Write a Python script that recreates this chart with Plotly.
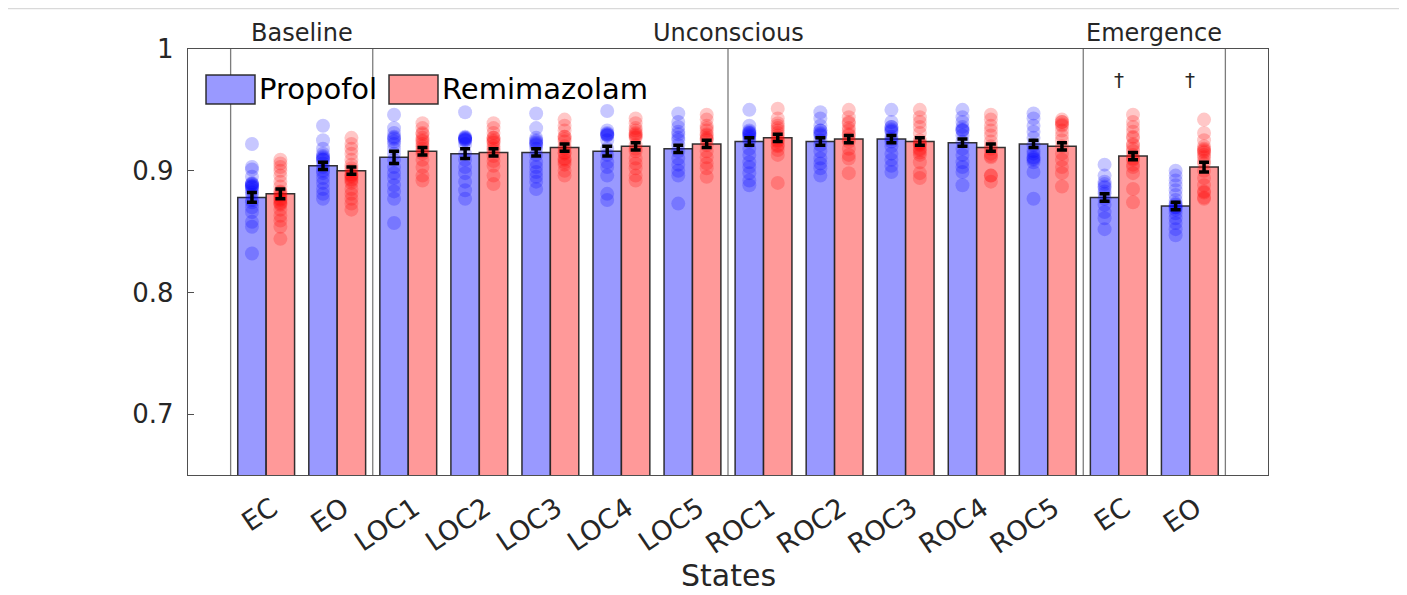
import numpy as np
import plotly.graph_objects as go

# ---------------- data ----------------
states = ["EC", "EO", "LOC1", "LOC2", "LOC3", "LOC4", "LOC5",
          "ROC1", "ROC2", "ROC3", "ROC4", "ROC5", "EC", "EO"]
phases = ["Baseline", "Unconscious", "Emergence"]
phase_centers = [1.5, 7.5, 13.5]
phase_bounds = [0.5, 2.5, 7.5, 12.5, 14.5]

propofol_mean = [0.878, 0.904, 0.911, 0.914, 0.915, 0.916, 0.918,
                 0.924, 0.924, 0.926, 0.923, 0.922, 0.878, 0.871]
remimazolam_mean = [0.881, 0.900, 0.916, 0.915, 0.919, 0.920, 0.922,
                    0.927, 0.926, 0.924, 0.919, 0.920, 0.912, 0.903]
propofol_sem = [0.004, 0.003, 0.005, 0.004, 0.003, 0.004, 0.003,
                0.003, 0.003, 0.003, 0.003, 0.003, 0.003, 0.003]
remimazolam_sem = [0.004, 0.003, 0.003, 0.003, 0.003, 0.003, 0.003,
                   0.003, 0.003, 0.003, 0.003, 0.003, 0.003, 0.004]

propofol_dots = [
    [0.922, 0.903, 0.901, 0.895, 0.890, 0.889, 0.889, 0.888, 0.887, 0.887, 0.886, 0.884, 0.882, 0.880, 0.876, 0.874, 0.870, 0.866, 0.858, 0.854, 0.832],
    [0.937, 0.925, 0.918, 0.914, 0.912, 0.911, 0.910, 0.909, 0.909, 0.906, 0.903, 0.900, 0.898, 0.894, 0.890, 0.885, 0.881, 0.877],
    [0.946, 0.935, 0.931, 0.928, 0.927, 0.926, 0.924, 0.922, 0.918, 0.914, 0.909, 0.903, 0.898, 0.894, 0.888, 0.883, 0.877, 0.857],
    [0.948, 0.928, 0.927, 0.927, 0.926, 0.926, 0.925, 0.925, 0.922, 0.914, 0.909, 0.903, 0.898, 0.891, 0.884, 0.877],
    [0.947, 0.935, 0.927, 0.925, 0.924, 0.923, 0.922, 0.921, 0.918, 0.913, 0.907, 0.903, 0.899, 0.895, 0.891, 0.885],
    [0.949, 0.933, 0.931, 0.930, 0.930, 0.929, 0.929, 0.925, 0.918, 0.913, 0.907, 0.903, 0.896, 0.881, 0.876],
    [0.947, 0.940, 0.936, 0.932, 0.930, 0.927, 0.925, 0.921, 0.916, 0.910, 0.905, 0.900, 0.896, 0.873],
    [0.950, 0.937, 0.933, 0.932, 0.931, 0.931, 0.930, 0.929, 0.928, 0.926, 0.924, 0.918, 0.913, 0.907, 0.903, 0.898, 0.892, 0.888],
    [0.948, 0.943, 0.937, 0.933, 0.933, 0.931, 0.930, 0.929, 0.925, 0.921, 0.916, 0.910, 0.906, 0.902, 0.896],
    [0.950, 0.940, 0.936, 0.936, 0.934, 0.933, 0.932, 0.928, 0.926, 0.924, 0.920, 0.914, 0.909, 0.904, 0.899],
    [0.950, 0.944, 0.940, 0.936, 0.934, 0.933, 0.933, 0.929, 0.924, 0.918, 0.913, 0.907, 0.903, 0.899, 0.888],
    [0.947, 0.943, 0.937, 0.932, 0.927, 0.921, 0.916, 0.914, 0.911, 0.910, 0.909, 0.907, 0.899, 0.877],
    [0.905, 0.896, 0.891, 0.889, 0.887, 0.886, 0.883, 0.881, 0.877, 0.872, 0.866, 0.861, 0.852],
    [0.900, 0.896, 0.892, 0.888, 0.884, 0.880, 0.876, 0.873, 0.872, 0.870, 0.870, 0.868, 0.865, 0.861, 0.857, 0.852, 0.847],
]
remimazolam_dots = [
    [0.909, 0.906, 0.903, 0.900, 0.896, 0.891, 0.887, 0.883, 0.882, 0.880, 0.879, 0.877, 0.876, 0.874, 0.873, 0.872, 0.868, 0.863, 0.859, 0.854, 0.844],
    [0.927, 0.922, 0.918, 0.914, 0.909, 0.905, 0.902, 0.900, 0.897, 0.896, 0.895, 0.893, 0.892, 0.890, 0.885, 0.881, 0.877, 0.873, 0.868],
    [0.939, 0.935, 0.931, 0.930, 0.927, 0.925, 0.924, 0.922, 0.920, 0.918, 0.916, 0.914, 0.909, 0.903, 0.896, 0.892],
    [0.939, 0.935, 0.931, 0.927, 0.927, 0.925, 0.924, 0.923, 0.920, 0.918, 0.916, 0.912, 0.908, 0.904, 0.896, 0.889],
    [0.942, 0.937, 0.933, 0.928, 0.928, 0.926, 0.924, 0.920, 0.918, 0.915, 0.914, 0.910, 0.909, 0.907, 0.905, 0.900, 0.896],
    [0.943, 0.939, 0.935, 0.933, 0.931, 0.930, 0.929, 0.928, 0.927, 0.921, 0.918, 0.916, 0.910, 0.906, 0.902, 0.896, 0.892],
    [0.946, 0.942, 0.937, 0.935, 0.933, 0.930, 0.929, 0.927, 0.926, 0.925, 0.921, 0.916, 0.911, 0.906, 0.902, 0.895],
    [0.951, 0.943, 0.939, 0.937, 0.935, 0.933, 0.931, 0.929, 0.927, 0.925, 0.924, 0.921, 0.920, 0.917, 0.913, 0.890],
    [0.950, 0.944, 0.940, 0.939, 0.935, 0.933, 0.930, 0.929, 0.926, 0.924, 0.918, 0.913, 0.910, 0.898],
    [0.950, 0.944, 0.940, 0.936, 0.931, 0.925, 0.923, 0.922, 0.921, 0.918, 0.917, 0.915, 0.913, 0.907, 0.898, 0.894],
    [0.946, 0.942, 0.937, 0.933, 0.929, 0.924, 0.920, 0.918, 0.914, 0.912, 0.911, 0.896, 0.896, 0.891],
    [0.942, 0.940, 0.940, 0.938, 0.937, 0.933, 0.929, 0.925, 0.920, 0.914, 0.909, 0.903, 0.898, 0.887],
    [0.946, 0.940, 0.936, 0.932, 0.928, 0.927, 0.922, 0.921, 0.918, 0.916, 0.913, 0.910, 0.909, 0.905, 0.903, 0.898, 0.885, 0.874],
    [0.942, 0.931, 0.925, 0.920, 0.918, 0.917, 0.916, 0.915, 0.913, 0.911, 0.908, 0.906, 0.900, 0.894, 0.888, 0.883, 0.882, 0.878, 0.877],
]
dagger_states = [13, 14]
dagger_level = 0.9745

# ---------------- figure ----------------
PAGE = 8                      # default page margin around the plot div
W, H = 1407 - PAGE, 595 - PAGE
L, T = 188 - PAGE, 49 - PAGE
R = W - (1268 - PAGE)
B = H - (475 - PAGE)
PW, PH = W - L - R, H - T - B

def px_x(p):                  # page pixel -> paper x
    return (p - PAGE - L) / PW

def px_y(p):                  # page pixel -> paper y
    return (H - B - (p - PAGE)) / PH

idx = np.arange(1, len(states) + 1)
off = 0.2
bw = 0.4
xp = idx - off
xr = idx + off

BLUE_BAR = "rgb(153,153,255)"
RED_BAR = "rgb(255,153,153)"
EDGE = "rgba(30,30,30,0.9)"
TXT = "#262626"
FONT = "DejaVu Sans"

fig = go.Figure()

fig.add_trace(go.Bar(x=xp, y=propofol_mean, width=bw, marker=dict(color=BLUE_BAR, line=dict(color=EDGE, width=1.5)),
                     showlegend=False, hoverinfo="skip"))
fig.add_trace(go.Bar(x=xr, y=remimazolam_mean, width=bw, marker=dict(color=RED_BAR, line=dict(color=EDGE, width=1.5)),
                     showlegend=False, hoverinfo="skip"))

def dots_xy(xpos, dots):
    xs, ys = [], []
    for x0, d in zip(xpos, dots):
        xs.extend([x0] * len(d))
        ys.extend(d)
    return xs, ys

dx, dy = dots_xy(xp, propofol_dots)
fig.add_trace(go.Scatter(x=dx, y=dy, mode="markers",
                         marker=dict(size=14, color="rgb(0,0,255)", opacity=0.22, line=dict(width=0)),
                         showlegend=False, hoverinfo="skip"))
dx, dy = dots_xy(xr, remimazolam_dots)
fig.add_trace(go.Scatter(x=dx, y=dy, mode="markers",
                         marker=dict(size=14, color="rgb(255,0,0)", opacity=0.22, line=dict(width=0)),
                         showlegend=False, hoverinfo="skip"))

for xpos, m, s in [(xp, propofol_mean, propofol_sem), (xr, remimazolam_mean, remimazolam_sem)]:
    fig.add_trace(go.Scatter(x=xpos, y=m, mode="markers", marker=dict(size=1, color="rgba(0,0,0,0)"),
                             error_y=dict(type="data", array=s, visible=True, color="black", thickness=3.5, width=5),
                             showlegend=False, hoverinfo="skip"))

shapes = []
for xb in phase_bounds:
    shapes.append(dict(type="line", xref="x", yref="paper", x0=xb, x1=xb, y0=0, y1=1,
                       line=dict(color="rgba(110,110,110,0.9)", width=1.3), layer="below"))

shapes.append(dict(type="rect", xref="paper", yref="paper", x0=px_x(206), x1=px_x(255), y0=px_y(104), y1=px_y(75),
                   fillcolor=BLUE_BAR, line=dict(color=EDGE, width=1.5)))
shapes.append(dict(type="rect", xref="paper", yref="paper", x0=px_x(389), x1=px_x(438), y0=px_y(104), y1=px_y(75),
                   fillcolor=RED_BAR, line=dict(color=EDGE, width=1.5)))

# light frame of the picture
shapes.append(dict(type="line", xref="paper", yref="paper", x0=px_x(PAGE), x1=px_x(1400), y0=px_y(PAGE + 0.5), y1=px_y(PAGE + 0.5),
                   line=dict(color="#d9d9d9", width=1.5)))
shapes.append(dict(type="line", xref="paper", yref="paper", x0=px_x(1400), x1=px_x(1400), y0=px_y(PAGE), y1=px_y(595),
                   line=dict(color="#d9d9d9", width=1.5)))

annotations = []
for name, xc in zip(phases, phase_centers):
    annotations.append(dict(x=xc, y=px_y(33), xref="x", yref="paper", text=name, showarrow=False,
                            font=dict(family=FONT, size=24, color=TXT), xanchor="center", yanchor="middle"))
for k in dagger_states:
    annotations.append(dict(x=k, y=dagger_level, xref="x", yref="y", text="†", showarrow=False,
                            font=dict(family=FONT, size=20, color=TXT), xanchor="center", yanchor="middle"))
annotations.append(dict(x=px_x(257), y=px_y(89), xref="paper", yref="paper", text="Propofol", showarrow=False,
                        font=dict(family=FONT, size=29, color="black"), xanchor="left", yanchor="middle"))
annotations.append(dict(x=px_x(440), y=px_y(89), xref="paper", yref="paper", text="Remimazolam", showarrow=False,
                        font=dict(family=FONT, size=29, color="black"), xanchor="left", yanchor="middle"))
annotations.append(dict(x=7.5, y=px_y(575), xref="x", yref="paper", text="States", showarrow=False,
                        font=dict(family=FONT, size=30, color=TXT), xanchor="center", yanchor="middle"))

fig.update_layout(
    width=W, height=H,
    margin=dict(l=L, r=R, t=T, b=B, pad=0),
    paper_bgcolor="white", plot_bgcolor="white",
    barmode="overlay",
    shapes=shapes, annotations=annotations,
    font=dict(family=FONT, color=TXT),
)
fig.update_xaxes(range=[-0.1, 15.1], tickmode="array", tickvals=idx, ticktext=states, tickangle=-34,
                 tickfont=dict(family=FONT, size=27, color=TXT), ticks="", showgrid=False, zeroline=False,
                 showline=True, mirror=True, linecolor="rgba(60,60,60,0.9)", linewidth=1.3,
                 ticklabelstandoff=6, ticklabelshift=6)
fig.update_yaxes(range=[0.65, 1.0], tickmode="array", tickvals=[0.7, 0.8, 0.9, 1.0],
                 ticktext=["0.7", "0.8", "0.9", "1"], ticks="inside", ticklen=6, tickcolor="rgba(60,60,60,0.9)",
                 tickfont=dict(family=FONT, size=26, color=TXT), showgrid=False, zeroline=False,
                 showline=True, mirror=True, linecolor="rgba(60,60,60,0.9)", linewidth=1.3,
                 ticklabelstandoff=8)

fig.write_html("out.html")
